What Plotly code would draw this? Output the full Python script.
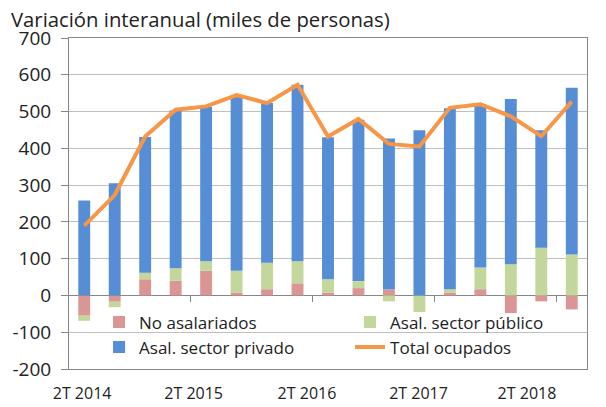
import plotly.graph_objects as go

quarters = ["2T 2014", "3T 2014", "4T 2014", "1T 2015", "2T 2015", "3T 2015", "4T 2015",
            "1T 2016", "2T 2016", "3T 2016", "4T 2016", "1T 2017", "2T 2017", "3T 2017",
            "4T 2017", "1T 2018", "2T 2018"]
no_asalariados = [-55, -17, 44, 40, 67, 8, 17, 33, 8, 20, 16, 0, 8, 17, -48, -16, -38]
sector_publico = [-14, -15, 18, 34, 26, 59, 72, 60, 36, 19, -16, -45, 9, 59, 85, 130, 111]
sector_privado = [258, 305, 369, 429, 420, 476, 434, 480, 386, 439, 411, 449, 492, 443, 449, 319, 454]
total_ocupados = [190, 273, 432, 505, 514, 545, 523, 573, 432, 480, 412, 405, 510, 520, 487, 433, 527]
tick_labels = quarters[::4]
y_ticks = [-200, -100, 0, 100, 200, 300, 400, 500, 600, 700]
y_tick_text = [str(v) for v in y_ticks]  # plain hyphen minus, as in the reference
# label positions (slightly off the category centres)
label_pos = [-0.07, 3.59, 7.31, 10.97, 14.53]
boundary_ticks = [3.5, 7.5, 11.5, 15.5]

xidx = list(range(len(quarters)))
FONT = "Open Sans"
AX = "#868686"
TXT = "#222222"

fig = go.Figure()
fig.add_trace(go.Bar(x=xidx, y=no_asalariados, name="No asalariados", width=0.39,
                     marker=dict(color="#D99694", line=dict(width=0)), customdata=quarters))
fig.add_trace(go.Bar(x=xidx, y=sector_publico, name="Asal. sector público", width=0.39,
                     marker=dict(color="#C3D69B", line=dict(width=0)), customdata=quarters))
fig.add_trace(go.Bar(x=xidx, y=sector_privado, name="Asal. sector privado", width=0.39,
                     marker=dict(color="#558ED5", line=dict(width=0)), customdata=quarters))
fig.add_trace(go.Scatter(x=xidx, y=total_ocupados, name="Total ocupados", mode="lines",
                         line=dict(color="#F79646", width=4), customdata=quarters))
# invisible helper trace so the zero-crossing axis with boundary ticks is drawn
fig.add_trace(go.Scatter(x=xidx, y=total_ocupados, xaxis="x2", mode="lines",
                         line=dict(width=0, color="rgba(0,0,0,0)"), showlegend=False,
                         hoverinfo="skip"))

# the page body has an 8px margin, so the layout is designed 8px up/left
fig.update_layout(
    width=606, height=407,
    margin=dict(l=60.5, r=27, t=30.3, b=46.3),
    paper_bgcolor="white", plot_bgcolor="white",
    barmode="relative",
    font=dict(family=FONT, size=16, color=TXT),
    showlegend=True,
    legend=dict(orientation="h", x=0.058, y=0.195, xanchor="left", yanchor="top",
                entrywidth=206, entrywidthmode="pixels", bgcolor="rgba(0,0,0,0)",
                font=dict(family=FONT, size=17, color=TXT), traceorder="normal"),
    xaxis=dict(range=[-0.5, 16.5], tickmode="array", tickvals=label_pos, ticktext=tick_labels,
               ticks="", showgrid=False, zeroline=False, showline=True, linecolor=AX,
               mirror=True, linewidth=1, tickfont=dict(size=16), ticklabelstandoff=10,
               automargin=False),
    xaxis2=dict(range=[-0.5, 16.5], overlaying="x", anchor="free", position=200 / 900,
                tickmode="array", tickvals=boundary_ticks, ticks="outside", ticklen=6,
                tickcolor=AX, showticklabels=False, showgrid=False, zeroline=False,
                showline=False, automargin=False),
    yaxis=dict(range=[-200, 700], tickmode="array", tickvals=y_ticks, ticktext=y_tick_text,
               showgrid=True, gridcolor="#BFBFBF",
               gridwidth=1, zeroline=True, zerolinecolor=AX, zerolinewidth=1,
               showline=True, linecolor=AX, mirror=True, ticks="outside", ticklen=7,
               tickcolor=AX, tickfont=dict(size=19), ticklabelstandoff=6, automargin=False),
    annotations=[dict(text="Variación interanual (miles de personas)", xref="paper", yref="paper",
                      x=-0.1165, y=1.056, xanchor="left", yanchor="middle", showarrow=False,
                      font=dict(family=FONT, size=20.3, color=TXT))],
)

fig.write_html("out.html")
